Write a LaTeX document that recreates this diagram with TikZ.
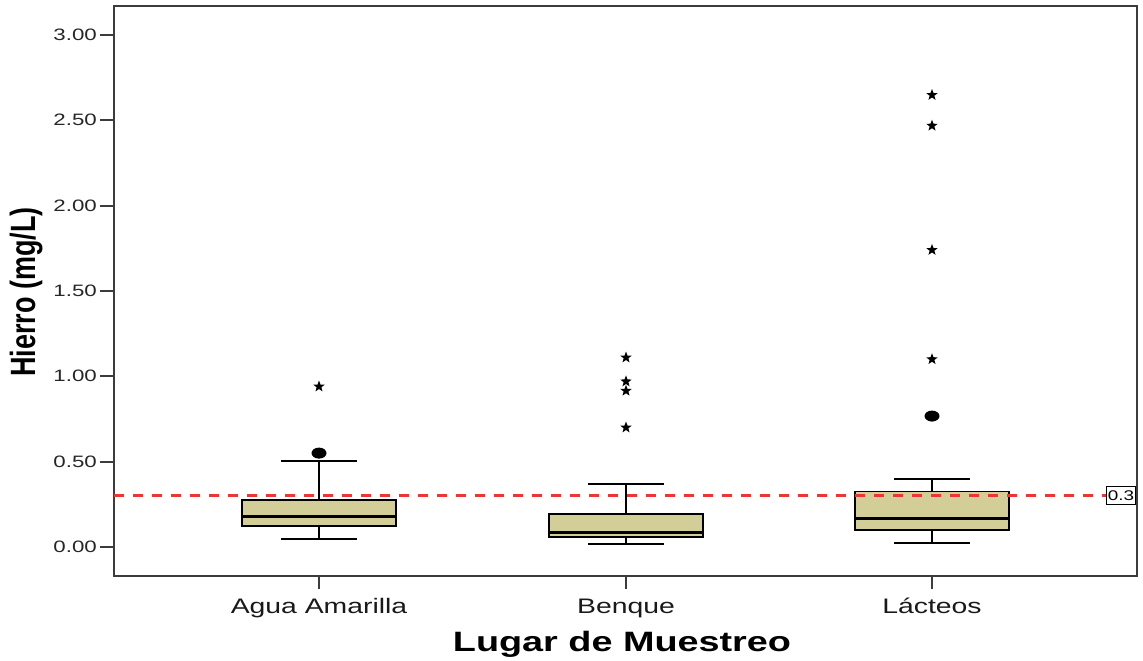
\documentclass[tikz,border=0pt]{standalone}
\usepackage{fontspec}
\newfontfamily\plotfont{Liberation Sans}[FakeStretch=1.35]
\newfontfamily\ylabfont{Liberation Sans}
\usetikzlibrary{shapes.geometric}
\definecolor{boxtan}{RGB}{211,206,152}
\definecolor{refred}{RGB}{240,52,52}
\definecolor{frameg}{RGB}{60,60,60}

\tikzset{
  frame/.style={draw=frameg, line width=2pt},
  whisker/.style={black, line width=2pt},
  boxbody/.style={fill=boxtan, draw=black, line width=1.6pt},
  median/.style={black, line width=3pt},
  refline/.style={refred, line width=3pt, dash pattern=on 10pt off 9pt},
  extreme/.style={star, star points=5, star point ratio=2.4, fill=black, inner sep=0pt, minimum size=12pt},
  outlier/.style={ellipse, fill=black, inner sep=0pt, minimum width=15pt, minimum height=11pt},
  ticklab/.style={font=\plotfont\fontsize{16.5}{16.5}\selectfont, text=black!85, inner sep=0pt},
  catlab/.style={font=\plotfont\fontsize{21}{21}\selectfont, text=black!90, inner sep=0pt}
}

% x, min, q1, mediana, q3, max
\newcommand{\caja}[6]{%
  \draw[whisker] (#1,#2) -- (#1,#3);
  \draw[whisker] (#1,#5) -- (#1,#6);
  \draw[whisker] (#1-38,#2) -- (#1+38,#2);
  \draw[whisker] (#1-38,#6) -- (#1+38,#6);
  \filldraw[boxbody] (#1-77,#3) rectangle (#1+77,#5);
  \draw[median] (#1-77,#4) -- (#1+77,#4);
}

\begin{document}
\begin{tikzpicture}[x=1pt, y=170.7pt]
  \useasboundingbox (0,-0.6678) rectangle (1143,3.2045);

  % marco y ejes
  \draw[frame] (114,-0.17) rectangle (1137,3.169);
  \foreach \v in {0.00,0.50,1.00,1.50,2.00,2.50,3.00} {
    \draw[frame] (100,\v) -- (114,\v);
    \node[ticklab, anchor=east] at (97,\v) {\v};
  }
  \foreach \x/\lab in {319/Agua Amarilla, 626/Benque, 932/Lácteos} {
    \draw[frame] (\x,-0.17) -- (\x,-0.245);
    \node[catlab, anchor=base] at (\x,-0.387) {\lab};
  }

  % cajas
  \caja{319}{0.047}{0.123}{0.176}{0.275}{0.506}
  \caja{626}{0.018}{0.058}{0.084}{0.195}{0.370}
  \caja{932}{0.025}{0.098}{0.168}{0.324}{0.397}

  % valores atipicos
  \node[outlier] (agua-o1) at (319,0.550) {};
  \node[extreme] (agua-e1) at (319,0.940) {};
  \node[extreme] (benq-e1) at (626,1.110) {};
  \node[extreme] (benq-e2) at (626,0.970) {};
  \node[extreme] (benq-e3) at (626,0.915) {};
  \node[extreme] (benq-e4) at (626,0.700) {};
  \node[outlier] (lact-o1) at (932,0.767) {};
  \node[extreme] (lact-e1) at (932,2.648) {};
  \node[extreme] (lact-e2) at (932,2.468) {};
  \node[extreme] (lact-e3) at (932,1.740) {};
  \node[extreme] (lact-e4) at (932,1.100) {};

  % limite 0.3
  \node[draw, fill=white, line width=1pt, inner sep=1.5pt, minimum height=18pt,
        font=\plotfont\fontsize{14}{14}\selectfont] (refval) at (1121,0.3) {0.3};
  \coordinate (refstart) at (114,0.3);
  \draw[refline] (refstart) -- (refval.west);

  % titulos
  \node[font=\plotfont\bfseries\fontsize{28}{28}\selectfont, anchor=base] (xtitle) at (622,-0.615) {Lugar de Muestreo};
  \node[rotate=90, inner sep=0pt] (ytitle) at (27,1.494)
    {\scalebox{1}[1.3]{\ylabfont\bfseries\fontsize{27}{27}\selectfont Hierro (mg/L)}};
\end{tikzpicture}
\end{document}
